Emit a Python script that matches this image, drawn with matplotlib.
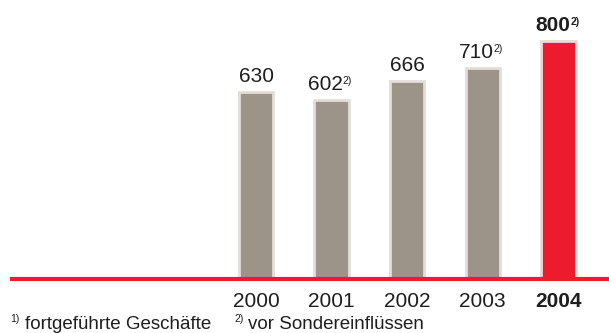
import matplotlib.pyplot as plt

plt.rcParams["font.family"] = ["Liberation Sans", "DejaVu Sans"]

years = ["2000", "2001", "2002", "2003", "2004"]
values = [630, 602, 666, 710, 800]
value_labels = ["630", "602", "666", "710", "800"]
notes = ["", "2)", "", "2)", "2)"]
highlight = [False, False, False, False, True]

GREY = "#9d9489"
EDGE = "#e3ded7"
RED = "#ec1c2e"
TEXT = "#1e1e1e"

fig = plt.figure(figsize=(6.09, 3.33), dpi=100)
ax = fig.add_axes([0, 0, 1, 1])

# bar centres 75.6 px apart, first centre at 256 px
step = 75.6
x0 = 256.0
ax.set_xlim(-x0 / step, (609 - x0) / step)
# baseline 54 px above the bottom, 0.297 px per unit
ppu = 0.297
ax.set_ylim(-54 / ppu, (333 - 54) / ppu)
ax.axis("off")

xs = list(range(len(values)))
colors = [RED if h else GREY for h in highlight]
ax.bar(xs, values, width=0.455, color=colors, edgecolor=EDGE,
       linewidth=2.0, zorder=2)

# red base line
ax.plot([-x0 / step + 10 / step, (609 - x0) / step], [0, 0],
        color=RED, linewidth=3.0, solid_capstyle="butt", zorder=3)

for x, v, lab, note, h in zip(xs, values, value_labels, notes, highlight):
    weight = "bold" if h else "normal"
    shift = -6 if note else 0
    t = ax.annotate(lab, xy=(x, v), xytext=(shift, 10),
                    textcoords="offset pixels", ha="center",
                    va="baseline", fontsize=15, color=TEXT,
                    fontweight=weight)
    if note:
        ax.annotate(note, xy=(1, 1), xycoords=t, xytext=(1 if h else -1, -1),
                    textcoords="offset pixels", ha="left", va="top",
                    fontsize=7.5, color=TEXT, fontweight=weight)

for x, yr, h in zip(xs, years, highlight):
    ax.annotate(yr, xy=(x, 0), xytext=(0, -28), textcoords="offset pixels",
                ha="center", va="baseline", fontsize=15, color=TEXT,
                fontweight="bold" if h else "normal")

# footnotes
fig.text(10 / 609, 1 - 322 / 333, "1)", fontsize=7.5, color=TEXT,
         ha="left", va="baseline")
fig.text(25 / 609, 1 - 329 / 333, "fortgeführte Geschäfte", fontsize=13.5,
         color=TEXT, ha="left", va="baseline")
fig.text(234 / 609, 1 - 322 / 333, "2)", fontsize=7.5, color=TEXT,
         ha="left", va="baseline")
fig.text(248 / 609, 1 - 329 / 333, "vor Sondereinflüssen", fontsize=13.5,
         color=TEXT, ha="left", va="baseline")

fig.savefig("out.png", dpi=100)
